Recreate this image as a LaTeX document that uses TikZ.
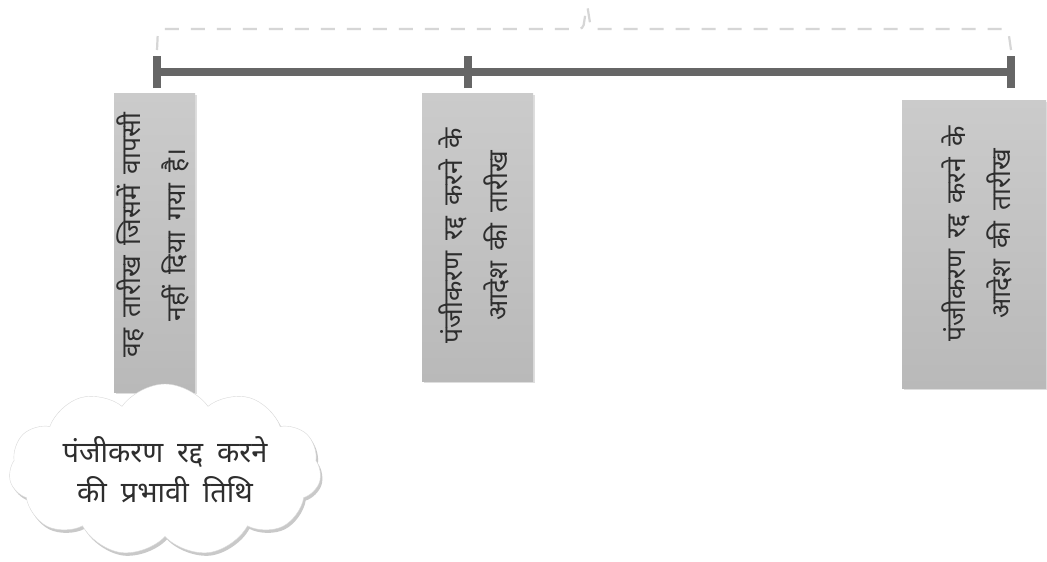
\documentclass[tikz,border=0pt]{standalone}
\usepackage{fontspec}
\newfontfamily\hindi[Script=Devanagari]{Noto Sans}
\usetikzlibrary{shapes.symbols,shadows}
\definecolor{barcol}{HTML}{666666}
\definecolor{boxtop}{HTML}{CBCBCB}
\definecolor{boxbot}{HTML}{B9B9B9}
\definecolor{bracecol}{HTML}{D6D6D6}
\definecolor{inkcol}{HTML}{2E2E2E}
\newcommand\boxfont{\hindi\fontsize{26.5}{45}\selectfont\spaceskip=11pt\relax}
\newcommand\cloudfont{\hindi\fontsize{29}{40}\selectfont\spaceskip=14pt\relax}
\tikzset{
  datebox/.style={draw=none, top color=boxtop, bottom color=boxbot,
    drop shadow={shadow xshift=1.5pt, shadow yshift=-1.5pt, fill=black!25, opacity=.5}},
  vtext/.style={rotate=90, align=center, font=\boxfont,
    text=inkcol, inner sep=0pt},
  tickmark/.style={draw=barcol, line width=8pt},
  mainbar/.style={draw=barcol, line width=8pt},
  bracket/.style={draw=bracecol, line width=2.2pt, dash pattern=on 14pt off 12pt},
  bubble/.style={cloud, cloud puffs=11, cloud puff arc=110, cloud ignores aspect,
    minimum width=312pt, minimum height=172pt, inner sep=0pt, fill=white, draw=black!15,
    drop shadow={shadow xshift=2pt, shadow yshift=-3pt, fill=black!35, opacity=.6},
    align=center, font=\cloudfont, text=inkcol}
}
\begin{document}
\begin{tikzpicture}[x=1pt, y=-1pt]
  \useasboundingbox (0,0) rectangle (1047,562);
  \fill[white] (0,0) rectangle (1047,562);

  % dashed brace above the time line
  \coordinate (bl) at (157,50);
  \coordinate (br) at (1011,50);
  \draw[bracket, rounded corners=4pt] (bl) -- (158,29) -- (583,29) -- (587,4)
       -- (591,29) -- (1008,29) -- (br);

  % time line with its three ticks
  \coordinate (t1) at (157,72);
  \coordinate (t2) at (468,72);
  \coordinate (t3) at (1011,72);
  \draw[mainbar] (t1) -- (t3);
  \foreach \t in {t1,t2,t3}
    \draw[tickmark] ([yshift=-16pt]\t) -- ([yshift=16pt]\t);

  % date boxes
  \path[datebox] (114,93) rectangle (195,392);
  \node[vtext] (d1) at (153,235)
    {वह तारीख जिसमें वापसी\\ नहीं दिया गया है।};
  \path[datebox] (422,93) rectangle (533,381);
  \node[vtext] (d2) at (474,236)
    {पंजीकरण रद्द करने के\\ आदेश की तारीख};
  \path[datebox] (902,100) rectangle (1046,388);
  \node[vtext] (d3) at (977,234)
    {पंजीकरण रद्द करने के\\ आदेश की तारीख};

  % cloud callout
  \node[bubble] (eff) at (165,470)
    {पंजीकरण रद्द करने\\ की प्रभावी तिथि};
\end{tikzpicture}
\end{document}
